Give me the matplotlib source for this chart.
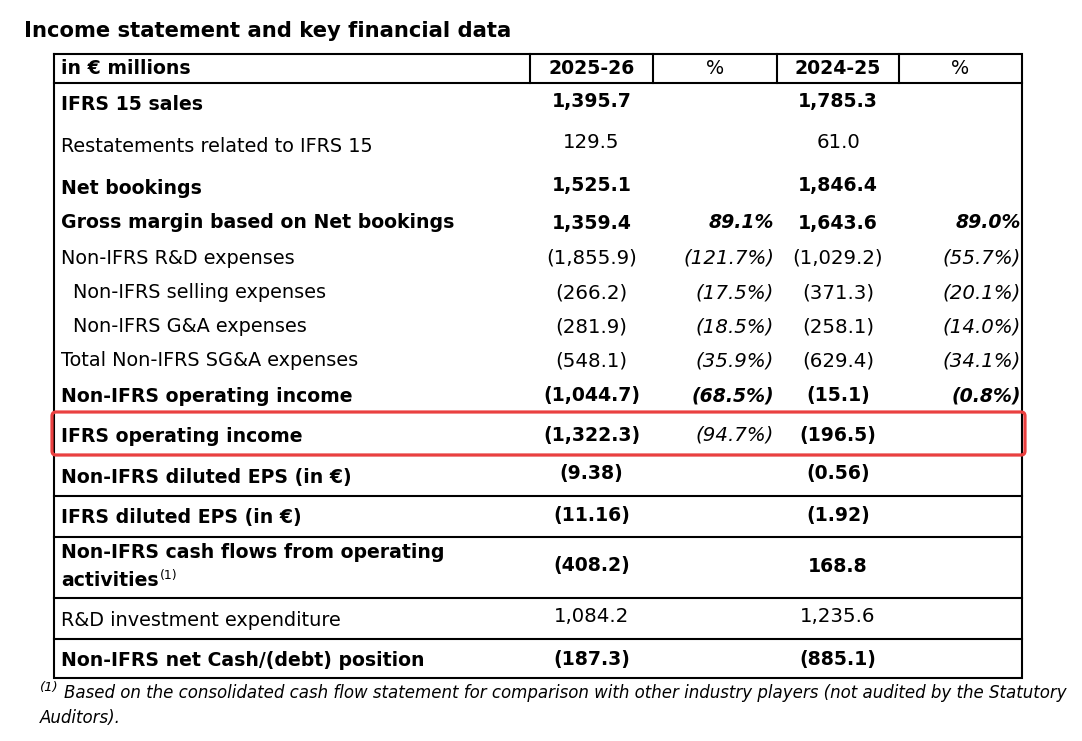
import matplotlib
matplotlib.use('Agg')
from matplotlib import pyplot as plt
from matplotlib.patches import FancyBboxPatch

plt.rcParams['font.family'] = ['DejaVu Sans']

# -> data

title = 'Income statement and key financial data'

headers = ['in € millions', '2025-26', '%', '2024-25', '%']

labels = ['IFRS 15 sales',
          'Restatements related to IFRS 15',
          'Net bookings',
          'Gross margin based on Net bookings',
          'Non-IFRS R&D expenses',
          'Non-IFRS selling expenses',
          'Non-IFRS G&A expenses',
          'Total Non-IFRS SG&A expenses',
          'Non-IFRS operating income',
          'IFRS operating income',
          'Non-IFRS diluted EPS (in €)',
          'IFRS diluted EPS (in €)',
          'Non-IFRS cash flows from operating\nactivities',
          'R&D investment expenditure',
          'Non-IFRS net Cash/(debt) position']

bold = [1, 0, 1, 1, 0, 0, 0, 0, 1, 1, 1, 1, 1, 0, 1]
indent = [0, 0, 0, 0, 0, 1, 1, 0, 0, 0, 0, 0, 0, 0, 0]

v_2526 = ['1,395.7', '129.5', '1,525.1', '1,359.4', '(1,855.9)', '(266.2)', '(281.9)',
          '(548.1)', '(1,044.7)', '(1,322.3)', '(9.38)', '(11.16)', '(408.2)', '1,084.2', '(187.3)']
p_2526 = ['', '', '', '89.1%', '(121.7%)', '(17.5%)', '(18.5%)', '(35.9%)', '(68.5%)',
          '(94.7%)', '', '', '', '', '']
v_2425 = ['1,785.3', '61.0', '1,846.4', '1,643.6', '(1,029.2)', '(371.3)', '(258.1)',
          '(629.4)', '(15.1)', '(196.5)', '(0.56)', '(1.92)', '168.8', '1,235.6', '(885.1)']
p_2425 = ['', '', '', '89.0%', '(55.7%)', '(20.1%)', '(14.0%)', '(34.1%)', '(0.8%)',
          '', '', '', '', '', '']

# percent cells drawn bold (row 9 is plain italic)
p_bold = [0, 0, 0, 1, 0, 0, 0, 0, 1, 0, 0, 0, 0, 0, 0]

footnote_1 = 'Based on the consolidated cash flow statement for comparison with other industry players (not audited by the Statutory'
footnote_2 = 'Auditors).'

# -> layout (pixels)

W, H = 1082, 741
left, right = 54, 1022
top, head_bottom, bottom = 54, 83, 678
col_edges = [left, 530, 653, 777, 899, right]
label_y = [104, 147, 189, 223, 258, 293, 327, 361, 396, 436, 477, 518, 566, 620, 660]
value_y = [101, 143, 185, 223, 258, 293, 327, 361, 396, 435, 474, 516, 566, 617, 659]
row_lines = [455, 496, 537, 598, 639]

fs_b = 13.6     # bold text
fs_r = 13.9     # regular text
fs_n = 14.2     # regular numbers
fs_title = 15.25
fs_note = 12.0
lw = 1.5

fig = plt.figure(figsize=(W / 100, H / 100), dpi=100)
ax = fig.add_axes([0, 0, 1, 1])
ax.set_xlim(0, W)
ax.set_ylim(H, 0)
ax.axis('off')

ax.text(24, 31, title, fontsize=fs_title, fontweight='bold', va='center', ha='left')

# table frame
ax.plot([left, right, right, left, left], [top, top, bottom, bottom, top], color='black', lw=lw,
        solid_joinstyle='miter')
ax.plot([left, right], [head_bottom, head_bottom], color='black', lw=lw)
for x in col_edges[1:-1]:
    ax.plot([x, x], [top, head_bottom], color='black', lw=lw)
for y in row_lines:
    ax.plot([left, right], [y, y], color='black', lw=lw)

# header
head_y = 68
ax.text(61, head_y, headers[0], fontsize=fs_b, fontweight='bold', va='center', ha='left')
for i in range(1, 5):
    cx = (col_edges[i] + col_edges[i + 1]) / 2
    if i % 2:
        ax.text(cx, head_y, headers[i], fontsize=fs_b, fontweight='bold', va='center', ha='center')
    else:
        ax.text(cx, head_y, headers[i], fontsize=fs_r, va='center', ha='center')

# body
c1 = (col_edges[1] + col_edges[2]) / 2
c3 = (col_edges[3] + col_edges[4]) / 2
for i, lab in enumerate(labels):
    wt = 'bold' if bold[i] else 'normal'
    fl = fs_b if bold[i] else fs_r
    fn = fs_b if bold[i] else fs_n
    x0 = 73 if indent[i] else 61
    if '\n' in lab:
        first, second = lab.split('\n')
        ax.text(x0, label_y[i] - 14, first, fontsize=fl, fontweight=wt, va='center', ha='left')
        t = ax.text(x0, label_y[i] + 14, second, fontsize=fl, fontweight=wt, va='center', ha='left')
        fig.canvas.draw()
        bb = t.get_window_extent().transformed(ax.transData.inverted())
        ax.text(bb.x1 + 1, label_y[i] + 9, '(1)', fontsize=9, va='center', ha='left')
    else:
        ax.text(x0, label_y[i], lab, fontsize=fl, fontweight=wt, va='center', ha='left')

    ax.text(c1, value_y[i], v_2526[i], fontsize=fn, fontweight=wt, va='center', ha='center')
    ax.text(c3, value_y[i], v_2425[i], fontsize=fn, fontweight=wt, va='center', ha='center')
    pw = 'bold' if p_bold[i] else 'normal'
    fp = fs_b if p_bold[i] else fs_n
    ax.text(col_edges[3] - 3, value_y[i], p_2526[i], fontsize=fp, fontweight=pw,
            style='italic', va='center', ha='right')
    ax.text(right - 1, value_y[i], p_2425[i], fontsize=fp, fontweight=pw,
            style='italic', va='center', ha='right')

# highlight box around IFRS operating income
box = FancyBboxPatch((52 + 4, 412 + 4), 1025 - 52 - 8, 455 - 412 - 8,
                     boxstyle='round,pad=4', fill=False, edgecolor='#ea4040', lw=2.3, zorder=5)
ax.add_patch(box)

# footnote
ax.text(40, 688, '(1)', fontsize=9.5, style='italic', va='center', ha='left')
ax.text(64, 693, footnote_1, fontsize=fs_note, style='italic', va='center', ha='left')
ax.text(40, 718, footnote_2, fontsize=fs_note, style='italic', va='center', ha='left')

fig.savefig('out.png', dpi=100)
